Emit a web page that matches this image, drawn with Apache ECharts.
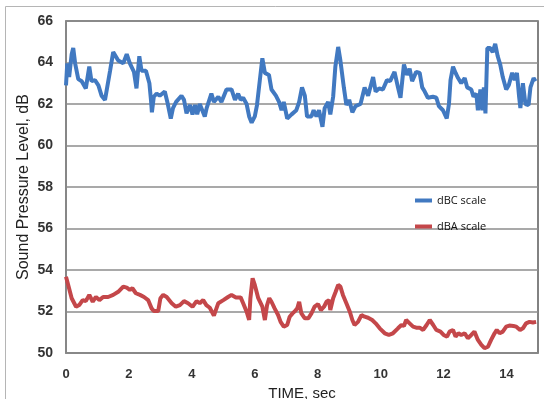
<!DOCTYPE html>
<html>
<head>
<meta charset="utf-8">
<script src="https://cdn.jsdelivr.net/npm/echarts@6/dist/echarts.min.js"></script>
<style>
  html, body { margin: 0; padding: 0; background: #fff; }
  #chart { width: 544px; height: 399px; }
</style>
</head>
<body>
<div id="chart"></div>
<script>
// dBC 曲线（时间，声压级）
var dbcTime = [0, 0.04, 0.1, 0.18, 0.23, 0.29, 0.39, 0.5, 0.63, 0.74, 0.81, 0.92, 1.03, 1.13, 1.24, 1.4, 1.5, 1.66, 1.82, 1.93,
  2.03, 2.16, 2.24, 2.33, 2.4, 2.54, 2.65, 2.7, 2.73, 2.79, 2.88, 2.98, 3.14, 3.22, 3.33, 3.4, 3.5, 3.67, 3.75, 3.83,
  3.94, 4.02, 4.1, 4.17, 4.25, 4.41, 4.47, 4.62, 4.7, 4.84, 4.94, 5.1, 5.26, 5.37, 5.47, 5.55, 5.63, 5.74, 5.82, 5.9,
  6.0, 6.07, 6.16, 6.24, 6.32, 6.45, 6.53, 6.67, 6.77, 6.85, 6.92, 7.03, 7.17, 7.32, 7.41, 7.5, 7.59, 7.66, 7.8, 7.87,
  7.96, 8.04, 8.15, 8.22, 8.33, 8.4, 8.49, 8.56, 8.65, 8.72, 8.83, 8.91, 9.0, 9.1, 9.2, 9.36, 9.49, 9.6, 9.76, 9.84,
  9.95, 10.07, 10.2, 10.3, 10.44, 10.55, 10.63, 10.74, 10.84, 10.92, 11.0, 11.13, 11.24, 11.32, 11.4, 11.5, 11.66, 11.77, 11.85, 11.98,
  12.1, 12.17, 12.22, 12.3, 12.38, 12.46, 12.56, 12.67, 12.75, 12.88, 12.95, 13.04, 13.09, 13.17, 13.23, 13.28, 13.33, 13.39, 13.48, 13.56,
  13.64, 13.72, 13.8, 13.88, 13.99, 14.07, 14.18, 14.26, 14.33, 14.4, 14.44, 14.52, 14.6, 14.7, 14.76, 14.86, 14.92]
var dbcLevel = [62.9, 63.96, 63.3, 64.4, 64.7, 63.96, 63.2, 63.1, 62.75, 63.8, 63.1, 63.15, 62.9, 62.4, 62.2, 63.6, 64.5, 64.1, 63.96, 64.4,
  63.96, 63.55, 62.75, 64.3, 63.6, 63.6, 63.0, 62.2, 61.6, 62.35, 62.5, 62.4, 62.6, 62.1, 61.3, 61.8, 62.1, 62.4, 62.2, 61.55,
  61.95, 61.5, 61.95, 61.5, 62.0, 61.4, 61.8, 62.5, 62.1, 62.35, 62.1, 62.7, 62.7, 62.2, 62.5, 62.2, 62.3, 62.0, 61.4, 61.1,
  61.4, 61.95, 63.15, 64.2, 63.5, 63.4, 62.7, 62.4, 62.1, 61.7, 62.1, 61.3, 61.5, 61.7, 62.1, 62.8, 62.4, 61.4, 61.4, 61.7,
  61.4, 61.7, 60.9, 61.8, 62.1, 61.5, 62.35, 63.8, 64.75, 64.1, 62.8, 61.95, 62.2, 61.6, 61.9, 62.0, 62.8, 62.4, 63.3, 62.6,
  62.75, 62.7, 63.15, 63.1, 63.55, 62.8, 62.3, 63.9, 63.4, 63.7, 63.1, 63.55, 63.5, 62.8, 62.6, 62.3, 62.35, 62.3, 61.9, 61.7,
  61.3, 62.0, 63.15, 63.8, 63.5, 63.25, 63.0, 63.25, 62.8, 62.7, 62.35, 62.5, 61.7, 62.7, 61.7, 62.8, 61.55, 64.7, 64.7, 64.5,
  64.9, 64.3, 63.9, 63.3, 62.7, 62.9, 63.5, 63.15, 63.5, 62.35, 61.8, 63.0, 62.0, 61.95, 62.8, 63.25, 63.1]

// dBA 曲线
var dbaTime = [0, 0.07, 0.18, 0.32, 0.42, 0.53, 0.63, 0.74, 0.85, 0.95, 1.06, 1.18, 1.34, 1.5, 1.66, 1.82, 1.93, 2.03, 2.11, 2.22,
  2.35, 2.48, 2.61, 2.72, 2.79, 2.93, 3.0, 3.09, 3.2, 3.36, 3.49, 3.62, 3.75, 3.88, 4.02, 4.15, 4.25, 4.36, 4.46, 4.57,
  4.7, 4.84, 5.0, 5.15, 5.26, 5.4, 5.55, 5.63, 5.74, 5.82, 5.86, 5.93, 6.0, 6.11, 6.24, 6.32, 6.39, 6.46, 6.53, 6.63,
  6.74, 6.82, 6.92, 7.03, 7.11, 7.2, 7.28, 7.35, 7.41, 7.48, 7.59, 7.7, 7.8, 7.9, 8.01, 8.1, 8.2, 8.28, 8.36, 8.4,
  8.49, 8.57, 8.65, 8.72, 8.8, 8.91, 9.02, 9.1, 9.17, 9.28, 9.39, 9.49, 9.6, 9.73, 9.84, 9.97, 10.13, 10.26, 10.39, 10.55,
  10.66, 10.74, 10.81, 10.92, 11.03, 11.13, 11.24, 11.35, 11.46, 11.56, 11.67, 11.77, 11.9, 12.0, 12.11, 12.19, 12.3, 12.38, 12.47, 12.56,
  12.67, 12.77, 12.88, 12.98, 13.09, 13.2, 13.3, 13.41, 13.51, 13.62, 13.69, 13.78, 13.88, 13.99, 14.09, 14.22, 14.31, 14.43, 14.52, 14.62,
  14.73, 14.84, 14.94]
var dbaLevel = [53.68, 53.28, 52.64, 52.23, 52.31, 52.55, 52.5, 52.8, 52.47, 52.7, 52.55, 52.7, 52.7, 52.8, 52.95, 53.2, 53.15, 53.04, 53.12, 52.88,
  52.8, 52.7, 52.55, 52.15, 52.02, 52.02, 52.64, 52.8, 52.7, 52.4, 52.23, 52.31, 52.5, 52.4, 52.23, 52.5, 52.4, 52.55, 52.31, 52.18,
  51.8, 52.4, 52.55, 52.7, 52.8, 52.68, 52.68, 52.4, 51.99, 51.59, 52.64, 53.6, 53.28, 52.64, 52.23, 51.59, 52.31, 52.64, 52.47, 52.15,
  51.83, 51.5, 51.27, 51.35, 51.75, 51.91, 52.02, 52.15, 52.47, 51.91, 51.67, 51.67, 51.91, 52.23, 52.35, 52.07, 52.23, 52.47, 52.55, 52.07,
  52.64, 52.95, 53.28, 53.2, 52.8, 52.4, 51.99, 51.59, 51.35, 51.5, 51.83, 51.75, 51.7, 51.59, 51.43, 51.19, 50.95, 50.87, 50.95, 51.19,
  51.35, 51.3, 51.59, 51.43, 51.27, 51.22, 51.22, 51.11, 51.35, 51.59, 51.35, 51.11, 51.03, 50.87, 50.79, 51.03, 51.11, 50.79, 50.95, 50.87,
  50.95, 50.71, 50.87, 51.03, 50.63, 50.39, 50.23, 50.3, 50.63, 50.95, 51.11, 50.95, 51.03, 51.27, 51.32, 51.3, 51.27, 51.11, 51.19, 51.43,
  51.5, 51.47, 51.5]

var seriesNames = ['dBC scale', 'dBA scale']

function zip(xs, ys) {
  return xs.map(function (x, i) { return [x, ys[i]] })
}

var font = 'Liberation Sans, Arial, sans-serif'

var option = {
  animation: false,
  color: ['#4179c1', '#c4474a'],
  graphic: [{ // 外框
    type: 'rect',
    shape: { x: 5.5, y: 6.5, width: 600, height: 600 },
    style: { fill: 'none', stroke: '#b5b5b5', lineWidth: 1 },
    silent: true
  }],
  legend: {
    data: seriesNames,
    orient: 'vertical',
    left: 410,
    top: 190,
    icon: 'rect',
    itemWidth: 17,
    itemHeight: 4,
    itemGap: 15,
    textStyle: { fontFamily: 'Open Sans, sans-serif', fontSize: 11, color: '#111' }
  },
  grid: {
    left: 66,
    right: 6,
    top: 21,
    bottom: 46,
    containLabel: false,
    outerBoundsMode: 'none',
    show: true,
    borderColor: '#5a5a5a',
    borderWidth: 1.5
  },
  xAxis: {
    type: 'value',
    min: 0,
    max: 15,
    interval: 2,
    name: 'TIME, sec',
    nameLocation: 'middle',
    nameGap: 32,
    nameTextStyle: { fontFamily: font, fontSize: 15, color: '#222' },
    axisLine: { lineStyle: { color: '#888', width: 1.5 } },
    axisTick: { show: false },
    splitLine: { show: false },
    axisLabel: { fontFamily: font, fontSize: 13, fontWeight: 'bold', color: '#333', margin: 15, showMaxLabel: false }
  },
  yAxis: {
    type: 'value',
    min: 50,
    max: 66,
    interval: 2,
    name: 'Sound Pressure Level, dB',
    nameLocation: 'middle',
    nameGap: 34,
    nameMoveOverlap: false,
    nameTextStyle: { fontFamily: font, fontSize: 16, color: '#222' },
    axisLine: { show: true, lineStyle: { color: '#888', width: 1.5 } },
    axisTick: { show: false },
    splitLine: { lineStyle: { color: '#8c8c8c', width: 1.5 } },
    axisLabel: { fontFamily: font, fontSize: 14, fontWeight: 'bold', color: '#333', margin: 13 }
  },
  series: [
    {
      name: seriesNames[0],
      type: 'line',
      showSymbol: false,
      data: zip(dbcTime, dbcLevel),
      lineStyle: { width: 4 }
    },
    {
      name: seriesNames[1],
      type: 'line',
      showSymbol: false,
      data: zip(dbaTime, dbaLevel),
      lineStyle: { width: 4 }
    }
  ]
}

var chartObj = echarts.init(document.getElementById('chart'))
chartObj.setOption(option)
</script>
</body>
</html>
